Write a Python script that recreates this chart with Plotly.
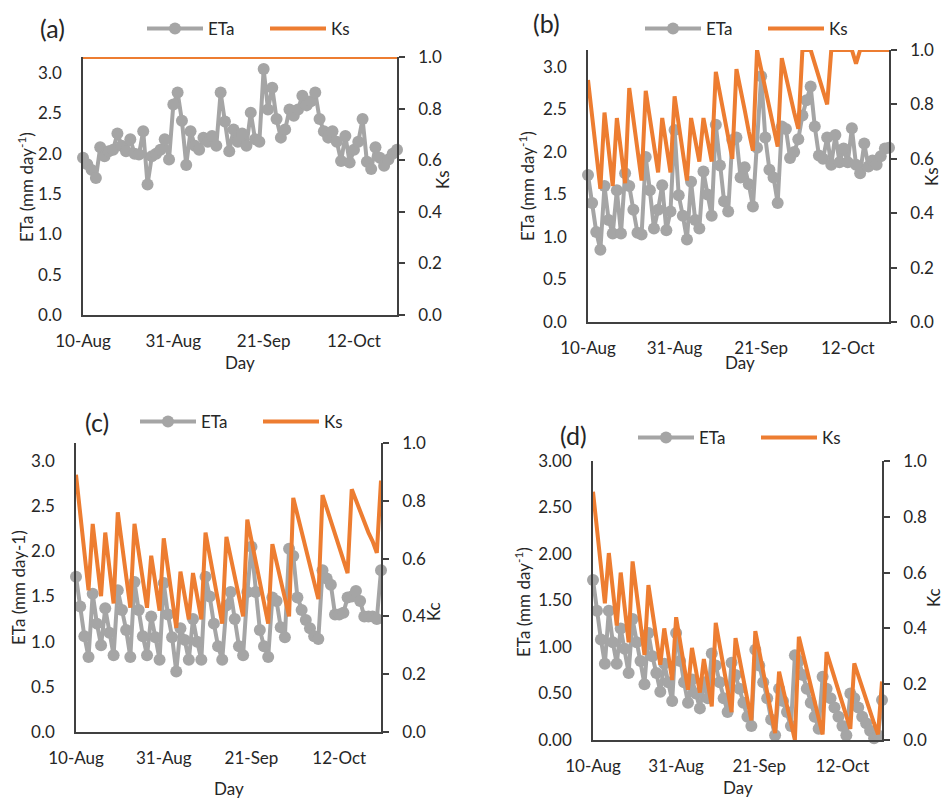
import pandas as pd
import plotly.graph_objects as go

# Daily dates of the season
days = pd.date_range("2019-08-10", "2019-10-22", freq="D")
tick_dates = ["2019-08-10", "2019-08-31", "2019-09-21", "2019-10-12"]
tick_labels = ["10-Aug", "31-Aug", "21-Sep", "12-Oct"]

# (a) actual evapotranspiration and stress coefficient
eta_a = [1.95, 1.87, 1.80, 1.70, 2.08, 1.97, 2.03, 2.05, 2.25, 2.10,
         2.03, 2.18, 2.00, 1.99, 2.28, 1.62, 1.97, 2.00, 2.05, 2.18,
         1.93, 2.61, 2.76, 2.41, 1.86, 2.28, 2.10, 2.05, 2.20, 2.15,
         2.22, 2.10, 2.76, 2.40, 2.03, 2.30, 2.15, 2.25, 2.10, 2.51,
         2.18, 2.15, 3.05, 2.55, 2.82, 2.43, 2.20, 2.30, 2.55, 2.47,
         2.55, 2.72, 2.60, 2.65, 2.76, 2.43, 2.28, 2.20, 2.28, 2.15,
         1.91, 2.22, 1.89, 2.05, 2.15, 2.43, 1.90, 1.81, 2.08, 1.95,
         1.85, 1.93, 2.00, 2.05]
ks_a = [1.0, 1.0, 1.0, 1.0, 1.0, 1.0, 1.0, 1.0, 1.0, 1.0,
        1.0, 1.0, 1.0, 1.0, 1.0, 1.0, 1.0, 1.0, 1.0, 1.0,
        1.0, 1.0, 1.0, 1.0, 1.0, 1.0, 1.0, 1.0, 1.0, 1.0,
        1.0, 1.0, 1.0, 1.0, 1.0, 1.0, 1.0, 1.0, 1.0, 1.0,
        1.0, 1.0, 1.0, 1.0, 1.0, 1.0, 1.0, 1.0, 1.0, 1.0,
        1.0, 1.0, 1.0, 1.0, 1.0, 1.0, 1.0, 1.0, 1.0, 1.0,
        1.0, 1.0, 1.0, 1.0, 1.0, 1.0, 1.0, 1.0, 1.0, 1.0,
        1.0, 1.0, 1.0, 1.0]

# (b)
eta_b = [1.73, 1.40, 1.06, 0.85, 1.60, 1.20, 1.04, 1.55, 1.04, 1.75,
         1.60, 1.32, 1.05, 1.03, 1.94, 1.55, 1.10, 1.32, 1.61, 1.08,
         1.30, 2.26, 1.49, 1.25, 0.97, 1.65, 1.20, 1.10, 1.77, 1.50,
         1.25, 2.32, 1.84, 1.42, 1.30, 2.14, 2.17, 1.70, 1.82, 1.62,
         1.36, 2.05, 2.89, 2.17, 1.79, 1.70, 1.40, 2.30, 2.27, 1.93,
         2.00, 2.15, 2.43, 2.61, 2.77, 2.30, 1.96, 1.92, 2.17, 1.85,
         2.20, 1.88, 2.04, 1.88, 2.28, 1.85, 1.75, 2.10, 1.83, 1.90,
         1.85, 1.95, 2.04, 2.05]
ks_b = [0.89, 0.76, 0.62, 0.49, 0.77, 0.63, 0.50, 0.75, 0.63, 0.51,
        0.86, 0.75, 0.63, 0.52, 0.85, 0.75, 0.65, 0.55, 0.75, 0.65,
        0.55, 0.83, 0.73, 0.62, 0.52, 0.75, 0.67, 0.59, 0.75, 0.67,
        0.59, 0.92, 0.84, 0.76, 0.68, 0.60, 0.93, 0.86, 0.78, 0.70,
        0.63, 1.00, 0.93, 0.86, 0.79, 0.72, 0.645, 0.97, 0.90, 0.84,
        0.77, 0.71, 1.00, 1.00, 1.00, 0.95, 0.90, 0.85, 0.80, 1.00,
        1.00, 1.00, 1.00, 1.00, 1.00, 0.95, 1.00, 1.00, 1.00, 1.00,
        1.00, 1.00, 1.00, 1.00]

# (c)
eta_c = [1.72, 1.39, 1.06, 0.83, 1.53, 1.20, 0.96, 1.37, 1.10, 0.85,
         1.57, 1.35, 1.13, 0.83, 1.66, 1.35, 1.06, 0.85, 1.28, 1.05,
         0.80, 1.65, 1.30, 1.05, 0.67, 1.15, 1.02, 0.80, 1.25, 1.00,
         0.80, 1.72, 1.50, 1.20, 0.95, 0.80, 1.40, 1.55, 1.25, 0.95,
         0.85, 1.55, 2.05, 1.55, 1.13, 0.95, 0.83, 1.49, 1.45, 1.16,
         1.05, 2.03, 1.95, 1.49, 1.35, 1.24, 1.15, 1.06, 1.03, 1.79,
         1.70, 1.63, 1.30, 1.30, 1.32, 1.49, 1.50, 1.56, 1.45, 1.28,
         1.28, 1.28, 1.25, 1.79]
ks_c = [0.89, 0.76, 0.62, 0.49, 0.72, 0.60, 0.47, 0.69, 0.57, 0.445,
        0.76, 0.65, 0.54, 0.43, 0.72, 0.62, 0.52, 0.43, 0.61, 0.52,
        0.42, 0.67, 0.57, 0.46, 0.36, 0.555, 0.47, 0.39, 0.55, 0.47,
        0.39, 0.69, 0.61, 0.53, 0.45, 0.375, 0.675, 0.61, 0.535, 0.465,
        0.40, 0.735, 0.66, 0.59, 0.52, 0.445, 0.375, 0.65, 0.59, 0.52,
        0.46, 0.40, 0.81, 0.75, 0.69, 0.63, 0.57, 0.51, 0.46, 0.82,
        0.775, 0.73, 0.685, 0.64, 0.595, 0.55, 0.84, 0.80, 0.76, 0.72,
        0.69, 0.66, 0.62, 0.87]

# (d)
eta_d = [1.72, 1.39, 1.08, 0.82, 1.39, 1.05, 0.82, 1.20, 0.98, 0.72,
         1.30, 1.05, 0.85, 0.60, 1.15, 0.90, 0.72, 0.52, 0.82, 0.62,
         0.42, 1.15, 0.85, 0.62, 0.40, 0.65, 0.50, 0.34, 0.62, 0.45,
         0.93, 0.80, 0.62, 0.45, 0.30, 0.83, 0.70, 0.55, 0.40, 0.25,
         0.15, 0.97, 0.80, 0.62, 0.45, 0.22, 0.05, 0.55, 0.42, 0.30,
         0.15, 0.91, 0.85, 0.70, 0.55, 0.40, 0.25, 0.12, 0.68, 0.55,
         0.45, 0.35, 0.25, 0.15, 0.05, 0.50, 0.45, 0.35, 0.25, 0.18,
         0.10, 0.02, 0.05, 0.43]
ks_d = [0.89, 0.76, 0.62, 0.49, 0.67, 0.54, 0.41, 0.60, 0.47, 0.35,
        0.64, 0.53, 0.42, 0.305, 0.555, 0.46, 0.36, 0.27, 0.40, 0.31,
        0.215, 0.44, 0.35, 0.26, 0.18, 0.33, 0.25, 0.17, 0.29, 0.20,
        0.12, 0.42, 0.34, 0.26, 0.18, 0.10, 0.365, 0.29, 0.22, 0.145,
        0.07, 0.39, 0.32, 0.245, 0.17, 0.10, 0.025, 0.245, 0.185, 0.12,
        0.06, 0.0, 0.37, 0.31, 0.25, 0.19, 0.13, 0.075, 0.02, 0.315,
        0.27, 0.225, 0.175, 0.13, 0.085, 0.04, 0.275, 0.23, 0.19, 0.145,
        0.105, 0.06, 0.02, 0.21]

GRAY = "#A5A5A5"
ORANGE = "#ED7D31"
AXIS = "#404040"
TXT = "#262626"
FONT = "Lato"
W, H = 943, 799


def px(x):
    return x / W


def py(y):
    return 1 - y / H


# Layout of the four panels in pixel units
panels = [
    dict(tag="(a)", eta=eta_a, ks=ks_a, rtitle="Ks", ytitle="ETa (mm day<sup>-1</sup>)",
         x0=83, x1=397, y0=57, y1=315, ymax=3.2, dtick=0.5, fmt=".1f",
         tag_xy=(52, 28), leg_xy=(142, 29), day_xy=(240, 362),
         yt_xy=(25, 187), rt_xy=(442, 180)),
    dict(tag="(b)", eta=eta_b, ks=ks_b, rtitle="Ks", ytitle="ETa (mm day<sup>-1</sup>)",
         x0=588, x1=889, y0=50, y1=322, ymax=3.2, dtick=0.5, fmt=".1f",
         tag_xy=(546, 23), leg_xy=(640, 29), day_xy=(740, 363),
         yt_xy=(527, 186), rt_xy=(932, 177)),
    dict(tag="(c)", eta=eta_c, ks=ks_c, rtitle="Kc", ytitle="ETa (mm day-1)",
         x0=76, x1=381, y0=443, y1=732, ymax=3.2, dtick=0.5, fmt=".1f",
         tag_xy=(97, 422), leg_xy=(135, 422), day_xy=(229, 788),
         yt_xy=(18, 588), rt_xy=(433, 612)),
    dict(tag="(d)", eta=eta_d, ks=ks_d, rtitle="Kc", ytitle="ETa (mm day<sup>-1</sup>)",
         x0=593, x1=882, y0=461, y1=740, ymax=3.0, dtick=0.5, fmt=".2f",
         tag_xy=(573, 435), leg_xy=(633, 438), day_xy=(738, 787),
         yt_xy=(522, 602), rt_xy=(933, 598)),
]

fig = go.Figure()
layout = dict(
    width=W, height=H, margin=dict(l=0, r=0, t=0, b=0, autoexpand=False),
    paper_bgcolor="white", plot_bgcolor="white",
    font=dict(family=FONT, size=16, color=TXT),
    showlegend=True, annotations=[],
)

for i, p in enumerate(panels):
    n = i + 1
    xname = "x" if n == 1 else f"x{n}"
    yl = 2 * n - 1
    yr = 2 * n
    ylname = "y" if yl == 1 else f"y{yl}"
    yrname = f"y{yr}"
    leg = "legend" if n == 1 else f"legend{n}"

    fig.add_trace(go.Scatter(
        x=days, y=p["eta"], name="ETa", mode="lines+markers",
        line=dict(color=GRAY, width=4), marker=dict(size=12, color=GRAY),
        xaxis=xname, yaxis=ylname, legend=leg, cliponaxis=False))
    fig.add_trace(go.Scatter(
        x=days, y=p["ks"], name="Ks", mode="lines",
        line=dict(color=ORANGE, width=4),
        xaxis=xname, yaxis=yrname, legend=leg, cliponaxis=False))

    xkey = "xaxis" if n == 1 else f"xaxis{n}"
    ylkey = "yaxis" if yl == 1 else f"yaxis{yl}"
    yrkey = f"yaxis{yr}"

    layout[xkey] = dict(
        domain=[px(p["x0"]), px(p["x1"])], anchor=ylname,
        type="date", range=[days[0], days[-1]],
        tickvals=tick_dates, ticktext=tick_labels, ticks="",
        showline=True, linecolor=AXIS, linewidth=1.5, showgrid=False,
        zeroline=False, ticklabelstandoff=10,
        tickfont=dict(size=17, color=TXT))
    layout[ylkey] = dict(
        domain=[py(p["y1"]), py(p["y0"])], anchor=xname,
        range=[0, p["ymax"]], dtick=p["dtick"], tick0=0, tickformat=p["fmt"],
        showline=True, linecolor=AXIS, linewidth=1.5, showgrid=False,
        zeroline=False, ticks="", ticklabelstandoff=16,
        tickfont=dict(size=17, color=TXT))
    layout[yrkey] = dict(
        domain=[py(p["y1"]), py(p["y0"])], anchor=xname, overlaying=ylname,
        side="right", range=[0, 1.0], dtick=0.2, tick0=0, tickformat=".1f",
        showline=True, linecolor=AXIS, linewidth=1.5, showgrid=False,
        zeroline=False, ticks="outside", ticklen=6, tickcolor=AXIS,
        tickwidth=1.5, ticklabelstandoff=10,
        tickfont=dict(size=17, color=TXT))

    layout[leg] = dict(
        orientation="h", x=px(p["leg_xy"][0]), y=py(p["leg_xy"][1]),
        xanchor="left", yanchor="middle", bgcolor="rgba(0,0,0,0)",
        font=dict(size=17, color=TXT), entrywidth=52,
        entrywidthmode="pixels", itemwidth=56, tracegroupgap=0)

    ann = layout["annotations"]
    ann.append(dict(text=p["tag"], x=px(p["tag_xy"][0]), y=py(p["tag_xy"][1]),
                    xref="paper", yref="paper", showarrow=False,
                    xanchor="center", yanchor="middle",
                    font=dict(size=25, color=TXT)))
    ann.append(dict(text="Day", x=px(p["day_xy"][0]), y=py(p["day_xy"][1]),
                    xref="paper", yref="paper", showarrow=False,
                    xanchor="center", yanchor="middle",
                    font=dict(size=17, color=TXT)))
    ann.append(dict(text=p["ytitle"], x=px(p["yt_xy"][0]), y=py(p["yt_xy"][1]),
                    xref="paper", yref="paper", showarrow=False, textangle=-90,
                    xanchor="center", yanchor="middle",
                    font=dict(size=17, color=TXT)))
    ann.append(dict(text=p["rtitle"], x=px(p["rt_xy"][0]), y=py(p["rt_xy"][1]),
                    xref="paper", yref="paper", showarrow=False, textangle=-90,
                    xanchor="center", yanchor="middle",
                    font=dict(size=17, color=TXT)))

fig.update_layout(**layout)
fig.write_html("out.html")
